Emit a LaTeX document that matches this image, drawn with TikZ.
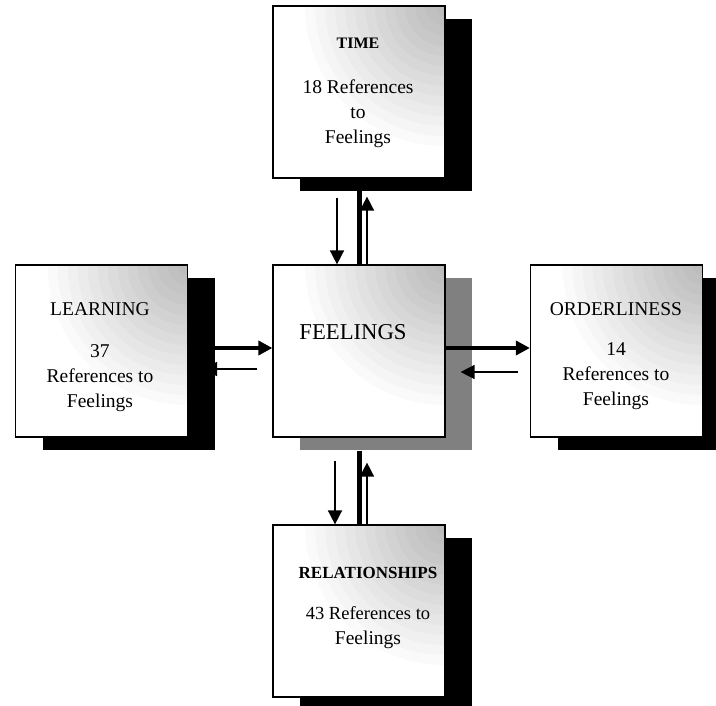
\documentclass[tikz,border=0pt]{standalone}
\usepackage{fontspec}
\setmainfont{Liberation Serif}
\usetikzlibrary{arrows.meta,shadows}

\tikzset{
  theme/.style={
    shape = rectangle,
    draw,
    fill = white,
    line width = 1.2pt,
    inner sep = 0pt,
    minimum width = 172pt,
    minimum height = 172pt,
    % grey speckle fading out from the top right corner
    path picture = {\foreach \r in {10,20,...,140}
      \fill[black, opacity=0.018] (path picture bounding box.north east) circle (\r pt);}
  },
  backing/.style={
    drop shadow = {shadow xshift=27pt, shadow yshift=-13pt, fill=#1, opacity=1}
  },
  backing/.default = black,
  caption/.style={
    align = center,
    inner sep = 0pt,
    font = \fontsize{19.5}{25}\selectfont
  },
  flow/.style={
    line width = 1.6pt,
    -{Triangle[length=14pt, width=14pt]}
  },
  mainflow/.style={
    flow,
    line width = 4pt
  },
  bar/.style={
    line width = 5pt
  }
}

\begin{document}
\begin{tikzpicture}[x=1pt, y=-1pt]
    \useasboundingbox (0,0) rectangle (716,706);

    % the five themes
    \node[theme, backing] (time) at (359,92) {};
    \node[theme, backing] (learn) at (101.5,351) {};
    \node[theme, backing=black!50] (feel) at (359,351) {};
    \node[theme, backing] (order) at (616.5,351) {};
    \node[theme, backing] (rel) at (359,611) {};

    % texts
    \node[caption] (timetxt) at (358,93) {{\fontsize{16}{21}\selectfont\bfseries TIME}\\[20pt]18 References\\to\\Feelings};
    \node[caption] (learntxt) at (100,357) {LEARNING\\[17pt]37\\References to\\Feelings};
    \node[caption, font=\fontsize{22.7}{27}\selectfont] (feeltxt) at (353,332) {FEELINGS};
    \node[caption] (ordertxt) at (616,356) {ORDERLINESS\\[15pt]14\\References to\\Feelings};
    \node[caption] (reltxt) at (368,608) {{\fontsize{17}{21}\selectfont\bfseries RELATIONSHIPS}\\[16pt]{\fontsize{18.5}{23}\selectfont 43 References to}\\Feelings};

    % time <-> feelings
    \draw[flow] ([xshift=-22pt, yshift=-19pt]time.south) -- ([xshift=-22pt]feel.north);
    \draw[bar] (time.south) -- (feel.north);
    \draw[flow] ([xshift=8pt]feel.north) -- ([xshift=8pt, yshift=-18pt]time.south);

    % feelings <-> relationships
    \draw[flow] ([xshift=-24pt, yshift=-23pt]feel.south) -- ([xshift=-24pt]rel.north);
    \draw[bar] ([yshift=-13pt]feel.south) -- (rel.north);
    \draw[flow] ([xshift=8pt]rel.north) -- ([xshift=8pt, yshift=-25pt]feel.south);

    % learning <-> feelings
    \draw[mainflow] ([yshift=3pt]learn.east) -- ([yshift=3pt]feel.west);
    \draw[flow] ([xshift=-15pt, yshift=-18pt]feel.west) -- ([xshift=15pt, yshift=-18pt]learn.east);

    % feelings <-> orderliness
    \draw[mainflow] ([yshift=3pt]feel.east) -- ([yshift=3pt]order.west);
    \draw[flow] ([xshift=-12pt, yshift=-21pt]order.west) -- ([xshift=15pt, yshift=-21pt]feel.east);
\end{tikzpicture}
\end{document}
